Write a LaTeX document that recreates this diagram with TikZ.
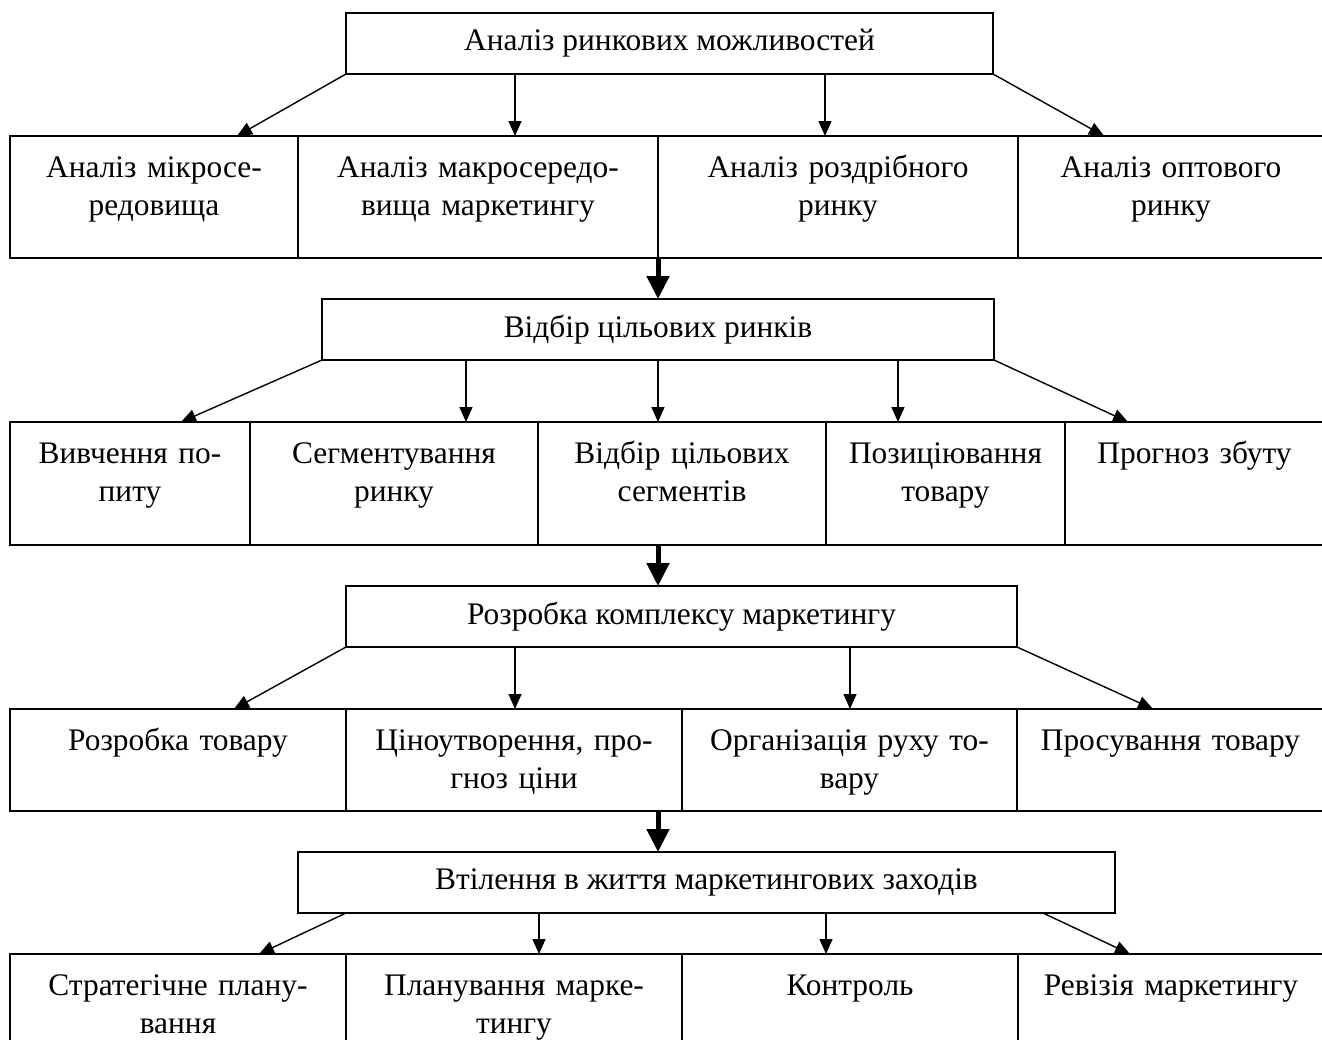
\documentclass[tikz,border=0pt]{standalone}
\usepackage{fontspec}
\setmainfont{Liberation Serif}
\usetikzlibrary{positioning, arrows.meta, calc}

\begin{document}
\begin{tikzpicture}[x=0.5pt, y=-0.5pt, font=\fontsize{15.7}{19}\selectfont, node distance=0pt,
    stage/.style={draw, black, line width=0.9pt, inner sep=0pt, outer sep=0pt, minimum height=30.5pt},
    cell/.style={draw, black, line width=0.9pt, inner sep=0pt, outer sep=0pt, align=center, text height=20.5pt},
    row1/.style={cell, text depth=40.5pt},
    row2/.style={cell, text depth=41pt},
    row3/.style={cell, text depth=30.5pt},
    row4/.style={cell, text depth=34.5pt},
    arrow/.style={-{Triangle[length=7.5pt, width=6.5pt]}, line width=0.7pt},
    flow/.style={-{Triangle[length=11.5pt, width=11pt]}, line width=2.5pt},
    ]

    \useasboundingbox (0,0) rectangle (1322,1039);
    \clip (0,0) rectangle (1322,1039);

    % stages
    \node[stage, minimum width=323.5pt, anchor=north west](h1) at (346,13){Аналіз ринкових можливостей};
    \node[stage, minimum width=336pt, anchor=north west](h2) at (322,299){Відбір цільових ринків};
    \node[stage, minimum width=335.5pt, anchor=north west](h3) at (346,586){Розробка комплексу маркетингу};
    \node[stage, minimum width=408.5pt, anchor=north west](h4) at (298,852){Втілення в життя маркетингових заходів};

    % row 1
    \node[row1, text width=144pt, anchor=north west](r1a) at (10,136){Аналіз мікросе-\\редовища};
    \node[row1, text width=180pt, right=of r1a](r1b){Аналіз макросередо-\\вища маркетингу};
    \node[row1, text width=180pt, right=of r1b](r1c){Аналіз роздрібного\\ринку};
    \node[row1, text width=153pt, right=of r1c](r1d){Аналіз оптового\\ринку};

    % row 2
    \node[row2, text width=120pt, anchor=north west](r2a) at (10,422){Вивчення по-\\питу};
    \node[row2, text width=144pt, right=of r2a](r2b){Сегментування\\ринку};
    \node[row2, text width=144pt, right=of r2b](r2c){Відбір цільових\\сегментів};
    \node[row2, text width=119.5pt, right=of r2c](r2d){Позиціювання\\товару};
    \node[row2, text width=129.5pt, right=of r2d](r2e){Прогноз збуту};

    % row 3
    \node[row3, text width=168pt, anchor=north west](r3a) at (10,709){Розробка товару};
    \node[row3, text width=168pt, right=of r3a](r3b){Ціноутворення, про-\\гноз ціни};
    \node[row3, text width=167.5pt, right=of r3b](r3c){Організація руху то-\\вару};
    \node[row3, text width=153.5pt, right=of r3c](r3d){Просування товару};

    % row 4
    \node[row4, text width=168pt, anchor=north west](r4a) at (10,954){Стратегічне плану-\\вання};
    \node[row4, text width=168pt, right=of r4a](r4b){Планування марке-\\тингу};
    \node[row4, text width=168pt, right=of r4b](r4c){Контроль};
    \node[row4, text width=153pt, right=of r4c](r4d){Ревізія маркетингу};

    % arrow ends on the rows
    \coordinate (e1a) at (237,136);
    \coordinate (e1b) at (515,136);
    \coordinate (e1c) at (825,136);
    \coordinate (e1d) at (1104,136);
    \coordinate (e2a) at (181,422);
    \coordinate (e2b) at (466,422);
    \coordinate (e2c) at (658,422);
    \coordinate (e2d) at (898,422);
    \coordinate (e2e) at (1128,422);
    \coordinate (e3a) at (234,709);
    \coordinate (e3b) at (515,709);
    \coordinate (e3c) at (850,709);
    \coordinate (e3d) at (1153,709);
    \coordinate (e4a) at (259,954);
    \coordinate (e4b) at (539,954);
    \coordinate (e4c) at (826,954);
    \coordinate (e4d) at (1130,954);
    \coordinate (s4d) at (1043,913);

    \draw[arrow](h1.south west) -- (e1a);
    \draw[arrow](h1.south -| e1b) -- (e1b);
    \draw[arrow](h1.south -| e1c) -- (e1c);
    \draw[arrow](h1.south east) -- (e1d);

    \draw[arrow](h2.south west) -- (e2a);
    \draw[arrow](h2.south -| e2b) -- (e2b);
    \draw[arrow](h2.south -| e2c) -- (e2c);
    \draw[arrow](h2.south -| e2d) -- (e2d);
    \draw[arrow](h2.south east) -- (e2e);

    \draw[arrow](h3.south west) -- (e3a);
    \draw[arrow](h3.south -| e3b) -- (e3b);
    \draw[arrow](h3.south -| e3c) -- (e3c);
    \draw[arrow](h3.south east) -- (e3d);

    \draw[arrow](h4.south -| r4a.east) -- (e4a);
    \draw[arrow](h4.south -| e4b) -- (e4b);
    \draw[arrow](h4.south -| e4c) -- (e4c);
    \draw[arrow](s4d) -- (e4d);

    % main flow
    \draw[flow](r1c.south west) -- (h2.north);
    \draw[flow](h2.north |- r2c.south) -- (h2.north |- h3.north);
    \draw[flow](h2.north |- r3b.south) -- (h2.north |- h4.north);

\end{tikzpicture}
\end{document}
